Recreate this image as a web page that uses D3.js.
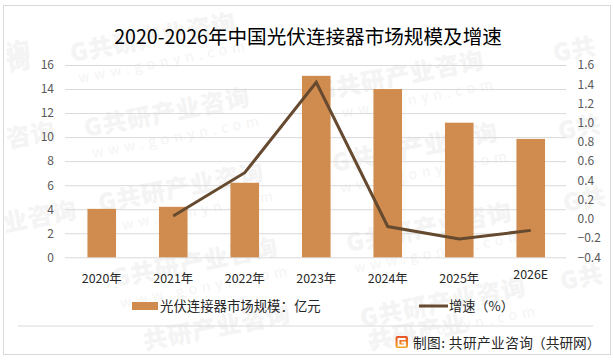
<!DOCTYPE html>
<html><head><meta charset="utf-8">
<script src="https://cdn.jsdelivr.net/npm/d3@7"></script>
<style>html,body{margin:0;padding:0;background:#fff}svg{display:block}text{font-family:"Noto Sans CJK SC","Noto Sans",sans-serif;text-spacing-trim:space-all}</style>
</head><body><div id="c"></div>
<script>
const categories=["2020年","2021年","2022年","2023年","2024年","2025年","2026E"];
const marketSize=[4.03,4.2,6.2,15.1,14.0,11.2,9.85];
const growth=[null,0.03,0.48,1.42,-0.08,-0.21,-0.12];
const leftTicks=[0,2,4,6,8,10,12,14,16];
const rightTicks=[-0.4,-0.2,0,0.2,0.4,0.6,0.8,1.0,1.2,1.4,1.6];
const title="2020-2026年中国光伏连接器市场规模及增速";
const legendLabels=["光伏连接器市场规模：亿元","增速（%）"];
const sourceMain="制图: 共研产业咨询", sourceParen="（共研网）";
const wmFull="G共研产业咨询", wmSub="www.gonyn.com";
const wmGrid=[[72,62],[86,137],[100,212],[114,287],[320,100],[334,172],[348,252],[362,327]];
const wmPieces=[["询",8,72],["咨询",8,148],["业咨询",5,232],["询",8,62],["G共",555,62],["G共",560,140],["G共",565,212],["G共",562,290],["共研产业咨询",145,350],["共研产业",370,350]];

const W=614,H=360,bar="#d08b4e",line="#654a30",grid="#d9d9d9",tick="#595959";
const svg=d3.select("#c").append("svg").attr("width",W).attr("height",H);
const defs=svg.append("defs");
const grad=defs.append("linearGradient").attr("id","logoGrad").attr("x1",0).attr("y1",0).attr("x2",0).attr("y2",1);
grad.append("stop").attr("offset",0).attr("stop-color","#e8502a");
grad.append("stop").attr("offset",1).attr("stop-color","#f7a823");
svg.append("rect").attr("x",3.5).attr("y",5.5).attr("width",607).attr("height",349).attr("fill","#fff").attr("stroke","#d9d9d9");

const wmColor="#f4f4f4";
const wm=svg.append("g").attr("pointer-events","none");
wmGrid.forEach(([x,y])=>{
  const g=wm.append("g").attr("transform",`translate(${x},${y}) rotate(-11)`);
  g.append("text").attr("font-size",24).attr("font-weight",900).attr("letter-spacing",1).attr("fill",wmColor).text(wmFull);
  g.append("text").attr("x",3).attr("y",22).attr("font-size",14).attr("letter-spacing",5).attr("fill",wmColor).text(wmSub);
});
wmPieces.forEach(([t,x,y])=>{
  wm.append("text").attr("transform",`translate(${x},${y}) rotate(-11)`).attr("font-size",24).attr("font-weight",900).attr("letter-spacing",1).attr("fill",wmColor).text(t);
});

const x=d3.scaleBand().domain(categories).range([66,566.5]).paddingInner(0.6).paddingOuter(0.3);
const y=d3.scaleLinear().domain([0,16]).range([257.3,65]);
const y2=d3.scaleLinear().domain([-0.4,1.6]).range([257.3,65]);

const gl=svg.append("g").attr("transform","translate(65,0)").call(d3.axisLeft(y).tickValues(leftTicks).tickSize(-501).tickFormat(d3.format("d")));
gl.select(".domain").remove();
gl.selectAll(".tick line").attr("stroke",grid);
gl.selectAll(".tick text").attr("x",-11).attr("fill",tick).attr("font-size",12);

const gr=svg.append("g").attr("transform","translate(566,0)").call(d3.axisRight(y2).tickValues(rightTicks).tickSize(0).tickFormat(d3.format(".1f")));
gr.select(".domain").remove();
gr.selectAll(".tick text").attr("x",11.5).attr("fill",tick).attr("font-size",12);

svg.append("g").selectAll("rect").data(marketSize).join("rect")
 .attr("x",(d,i)=>x(categories[i])).attr("width",x.bandwidth())
 .attr("y",d=>y(d)).attr("height",d=>y(0)-y(d)).attr("fill",bar);

const pts=categories.map((c,i)=>[c,growth[i]]).filter(d=>d[1]!==null);
svg.append("path").attr("d",d3.line().x(d=>x(d[0])+x.bandwidth()/2).y(d=>y2(d[1]))(pts))
 .attr("fill","none").attr("stroke",line).attr("stroke-width",3);

const gx=svg.append("g").attr("transform","translate(0,257.3)").call(d3.axisBottom(x).tickSize(0));
gx.select(".domain").remove();
gx.selectAll(".tick text").attr("y",d=>d==="2026E"?17.5:21.5).attr("dy",".32em").attr("fill","#262626").attr("font-size",12.4);

svg.append("text").attr("x",308).attr("y",44).attr("text-anchor","middle").attr("font-size",19.6).attr("fill","#000").text(title);

svg.append("rect").attr("x",132).attr("y",302).attr("width",26).attr("height",8).attr("fill",bar);
svg.append("text").attr("x",160).attr("y",311).attr("font-size",13.4).attr("fill","#262626").text(legendLabels[0]);
svg.append("line").attr("x1",419).attr("x2",448).attr("y1",306).attr("y2",306).attr("stroke",line).attr("stroke-width",3);
svg.append("text").attr("x",449).attr("y",311).attr("font-size",13.2).attr("fill","#262626").text(legendLabels[1]);

svg.append("line").attr("x1",18).attr("x2",593).attr("y1",326).attr("y2",326).attr("stroke","#d9d9d9");
svg.append("rect").attr("x",395.5).attr("y",336).attr("width",12.5).attr("height",12).attr("rx",2).attr("fill","url(#logoGrad)");
svg.append("path").attr("d","M405.5 339H398.5V345.5H405V342.5H401.5").attr("fill","none").attr("stroke","#fff").attr("stroke-width",1.8);
svg.append("text").attr("x",413).attr("y",347.5).attr("font-size",13.7).attr("fill","#262626").attr("textLength",120).attr("lengthAdjust","spacing").text(sourceMain);
svg.append("text").attr("x",532).attr("y",347.5).attr("font-size",13.7).attr("fill","#262626").attr("textLength",68.5).attr("lengthAdjust","spacing").text(sourceParen);
</script></body></html>
